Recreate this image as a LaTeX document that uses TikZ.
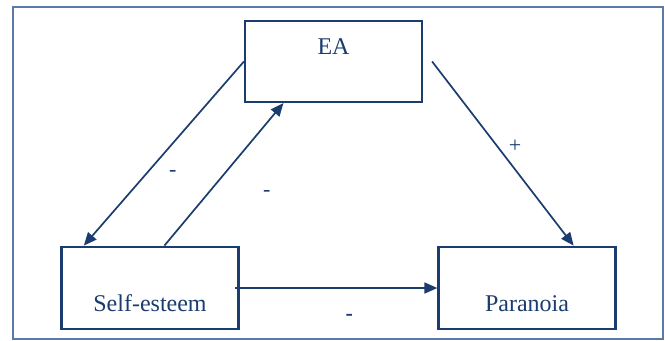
\documentclass[tikz,border=0pt]{standalone}
\usepackage{fontspec}
\setmainfont{Liberation Serif}
\usetikzlibrary{arrows.meta}
\definecolor{navy}{HTML}{1A3C6E}
\definecolor{framec}{HTML}{5B7AA8}
\begin{document}
\begin{tikzpicture}[x=1bp,y=-1bp,
  box/.style={draw=navy, line width=2.2bp, minimum width=177bp, inner sep=0pt, text=navy, font=\fontsize{24bp}{28bp}\selectfont},
  conn/.style={draw=navy, line width=1.7bp, -{Triangle[length=13bp,width=11bp]}},
  sign/.style={text=navy, inner sep=0pt, anchor=base, font=\fontsize{22bp}{26bp}\selectfont}]
\useasboundingbox (0,0) rectangle (665,340);
\draw[framec, line width=2bp] (12.7,7.3) rectangle (662.7,339);
\node[box, minimum height=81bp, text height=16bp, text depth=30bp] (EA) at (333.5,61.5) {EA};
\node[box, minimum height=82.6bp, text height=52bp, text depth=6bp] (SE) at (150,288) {Self-esteem};
\node[box, minimum height=82.6bp, text height=52bp, text depth=6bp] (PA) at (527,288) {Paranoia};
\draw[conn] (EA.west) -- ([xshift=23.4bp]SE.north west);
\draw[conn] ([xshift=104bp]SE.north west) -- ([xshift=39.5bp]EA.south west);
\draw[conn] ([xshift=9bp]EA.east) -- ([xshift=-43bp]PA.north east);
\draw[conn] ([xshift=-4.5bp]SE.east) -- (PA.west);
\node[sign] (s1) at (172.7,176.7) {-};
\node[sign] (s2) at (266.7,196.7) {-};
\node[sign] (s3) at (515,152.8) {+};
\node[sign, font=\fontsize{22bp}{26bp}\bfseries] (s4) at (349.3,320.7) {-};
\end{tikzpicture}
\end{document}
